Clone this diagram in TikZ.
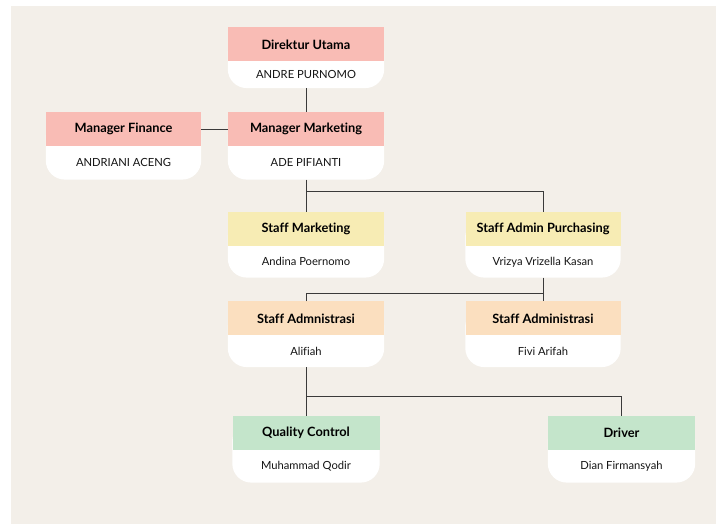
\documentclass[tikz,border=0pt]{standalone}
\usepackage{fontspec}
\setmainfont{Lato}[Ligatures=CommonOff]
\usetikzlibrary{positioning, backgrounds}

\definecolor{bgpaper}{HTML}{F3EFE9}
\definecolor{headred}{HTML}{F9BCB5}
\definecolor{headyellow}{HTML}{F7ECB4}
\definecolor{headorange}{HTML}{FBDFBF}
\definecolor{headgreen}{HTML}{C4E5CB}
\definecolor{inkline}{HTML}{3A3A3A}

\begin{document}
\begin{tikzpicture}[x=1pt, y=-1pt,
    head/.style={fill=#1, minimum width=156pt, minimum height=34pt, inner sep=0pt,
      font=\bfseries\fontsize{12.8}{14}\selectfont, text=black},
    who/.style={below=0pt of #1, minimum width=156pt, minimum height=31pt,
      inner sep=0pt, font=\fontsize{11.2}{13}\selectfont, text=black!92},
    narrow/.style={minimum width=147pt},
    link/.style={draw=inkline, line width=0.9pt}]
  \useasboundingbox (0,0) rectangle (716,524);

  % top management
  \node[head=headred] (dir) at (306,44.5) {Direktur Utama};
  \node[who=dir, minimum height=26pt] (dirn) {ANDRE PURNOMO};
  \node[head=headred] (mm) at (306,129) {Manager Marketing};
  \node[who=mm, minimum height=33pt] (mmn) {ADE PIFIANTI};
  \node[head=headred, minimum width=155pt] (mf) at (123.5,129) {Manager Finance};
  \node[who=mf, minimum width=155pt, minimum height=33pt] (mfn) {ANDRIANI ACENG};

  % staff
  \node[head=headyellow] (sm) at (306,229) {Staff Marketing};
  \node[who=sm] (smn) {Andina Poernomo};
  \node[head=headyellow, minimum width=155pt] (sap) at (543,229) {Staff Admin Purchasing};
  \node[who=sap, minimum width=155pt] (sapn) {Vrizya Vrizella Kasan};
  \node[head=headorange] (sa1) at (306,318.5) {Staff Admnistrasi};
  \node[who=sa1] (sa1n) {Alifiah};
  \node[head=headorange, minimum width=155pt] (sa2) at (543,318.5) {Staff Administrasi};
  \node[who=sa2, minimum width=155pt] (sa2n) {Fivi Arifah};
  \node[head=headgreen, narrow] (qc) at (306,433) {Quality Control};
  \node[who=qc, narrow, minimum height=32pt] (qcn) {Muhammad Qodir};
  \node[head=headgreen, narrow] (drv) at (621.5,433) {Driver};
  \node[who=drv, narrow, minimum height=32pt] (drvn) {Dian Firmansyah};

  % paper and white name cards, round at the bottom only
  \begin{scope}[on background layer]
    \fill[bgpaper] (11,6) rectangle (716,524);
    \foreach \n in {dirn, mmn, mfn, smn, sapn, sa1n, sa2n, qcn, drvn}
      \fill[white, rounded corners=19pt] ([yshift=28pt]\n.north west) -- (\n.south west)
        -- (\n.south east) -- ([yshift=28pt]\n.north east) -- cycle;
  \end{scope}

  \draw[link] (dirn) -- (mm);
  \draw[link] (mf) -- (mm);
  \draw[link] (mmn) -- (sm);
  \draw[link] (sm.north) -- ++(0,-20) -| (sap.north);
  \draw[link] (sapn) -- (sa2);
  \draw[link] (sa1.north) -- ++(0,-8) -| (sapn.south);
  \draw[link] (sa1n) -- (qc);
  \draw[link] (qc.north) -- ++(0,-19) -| (drv.north);
\end{tikzpicture}
\end{document}
